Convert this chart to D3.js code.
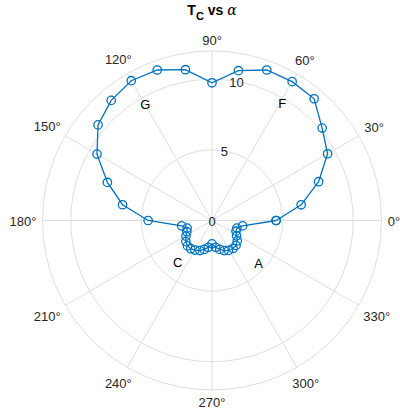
<!DOCTYPE html>
<html>
<head>
<meta charset="utf-8">
<script src="https://cdn.jsdelivr.net/npm/d3@7"></script>
<style>
  body { margin: 0; background: #fff; }
  svg { font-family: "Liberation Sans", Arial, sans-serif; }
  .grid { fill: none; stroke: #dedede; stroke-width: 1; }
  .tick { fill: #262626; font-size: 13px; }
</style>
</head>
<body>
<div id="chart"></div>
<script>
// polar data, angle in degrees, Tc values
var thetaDeg = [0, 10, 20, 30, 40, 50, 60, 70, 80, 90, 100, 110, 120, 130, 140, 150, 160, 170, 180,
    190, 197, 204, 211, 219, 226, 233, 240, 248, 255, 262, 270,
    278, 285, 292, 299, 307, 314, 321, 328, 336, 343, 350, 360];
var tcValues = [4.54, 6.41, 8.03, 9.45, 10.18, 11.25, 11.35, 11.34, 10.77, 9.75, 10.84, 11.34, 11.43, 11.1, 10.53, 9.4, 7.88, 6.43, 4.52,
    2.18, 1.84, 1.95, 2.15, 2.38, 2.5, 2.5, 2.42, 2.3, 2.12, 1.92, 1.65,
    1.92, 2.12, 2.3, 2.42, 2.48, 2.45, 2.3, 2.05, 1.86, 1.84, 2.2, 4.54];

var thetaTicks = [0, 30, 60, 90, 120, 150, 180, 210, 240, 270, 300, 330];
var rTicks = [0, 5, 10];
var rMax = 12;

// direction labels
var labelNames = ["F", "G", "C", "A"];
var labelTheta = [59, 120, 231, 317];
var labelR = [9.65, 9.45, 3.85, 4.5];

var width = 400, height = 418;
var cx = 212, cy = 220.5, outerR = 169.5;

var svg = d3.select("#chart").append("svg")
    .attr("width", width)
    .attr("height", height);

var r = d3.scaleLinear().domain([0, rMax]).range([0, outerR]);

function ang(deg) { return Math.PI / 2 - deg * Math.PI / 180; }  // d3 radial angle: 0 at top, clockwise

var g = svg.append("g").attr("transform", "translate(" + cx + "," + cy + ")");

// spokes
g.selectAll(".spoke")
    .data(thetaTicks)
    .enter().append("line")
    .attr("class", "grid")
    .attr("x1", 0).attr("y1", 0)
    .attr("x2", function (d) { return d3.pointRadial(ang(d), outerR)[0]; })
    .attr("y2", function (d) { return d3.pointRadial(ang(d), outerR)[1]; });

// circles
g.selectAll(".ring")
    .data(rTicks.filter(function (d) { return d > 0; }).concat([rMax]))
    .enter().append("circle")
    .attr("class", "grid")
    .attr("r", function (d) { return r(d); });

// theta labels, pushed out by half the text box
function labelPos(d) {
    var t = d * Math.PI / 180;
    var w = d === 0 ? 15 : (d < 100 ? 22 : 29);
    var rr = outerR + 5 + Math.abs(Math.cos(t)) * w / 2 + Math.abs(Math.sin(t)) * 6.5;
    return [rr * Math.cos(t), -rr * Math.sin(t) + 1];
}

g.selectAll(".tlabel")
    .data(thetaTicks)
    .enter().append("text")
    .attr("class", "tick")
    .attr("text-anchor", "middle")
    .attr("dominant-baseline", "central")
    .attr("x", function (d) { return labelPos(d)[0]; })
    .attr("y", function (d) { return labelPos(d)[1]; })
    .text(function (d) { return d + "°"; });

// r labels along 80 deg
g.selectAll(".rlabel")
    .data(rTicks)
    .enter().append("text")
    .attr("class", "tick")
    .attr("text-anchor", "middle")
    .attr("dominant-baseline", "central")
    .attr("x", function (d) { return d3.pointRadial(ang(80), r(d))[0]; })
    .attr("y", function (d) { return d3.pointRadial(ang(80), r(d))[1] + 1; })
    .text(function (d) { return d; });

var data = thetaDeg.map(function (t, i) { return { t: t, v: tcValues[i] }; });

var line = d3.lineRadial()
    .angle(function (d) { return ang(d.t); })
    .radius(function (d) { return r(d.v); });

g.append("path")
    .datum(data)
    .attr("d", line)
    .attr("fill", "none")
    .attr("stroke", "#0072BD")
    .attr("stroke-width", 1.3);

g.selectAll(".pt")
    .data(data)
    .enter().append("circle")
    .attr("cx", function (d) { return d3.pointRadial(ang(d.t), r(d.v))[0]; })
    .attr("cy", function (d) { return d3.pointRadial(ang(d.t), r(d.v))[1]; })
    .attr("r", 4.2)
    .attr("fill", "none")
    .attr("stroke", "#0072BD")
    .attr("stroke-width", 1.3);

// letters
g.selectAll(".lbl")
    .data(labelNames)
    .enter().append("text")
    .attr("text-anchor", "middle")
    .attr("dominant-baseline", "central")
    .attr("font-size", "13px")
    .attr("fill", "#000")
    .attr("x", function (d, i) { return d3.pointRadial(ang(labelTheta[i]), r(labelR[i]))[0]; })
    .attr("y", function (d, i) { return d3.pointRadial(ang(labelTheta[i]), r(labelR[i]))[1]; })
    .text(function (d) { return d; });

// title
var title = svg.append("text")
    .attr("x", 212)
    .attr("y", 15)
    .attr("text-anchor", "middle")
    .attr("font-size", "14px")
    .attr("font-weight", "bold")
    .attr("fill", "#000");
title.append("tspan").text("T");
title.append("tspan").attr("dy", 5).attr("font-size", "11px").text("C");
title.append("tspan").attr("dy", -5).text(" vs ");
title.append("tspan").attr("font-family", "'DejaVu Serif', serif").attr("font-style", "italic").attr("font-weight", "normal").text("α");
</script>
</body>
</html>
